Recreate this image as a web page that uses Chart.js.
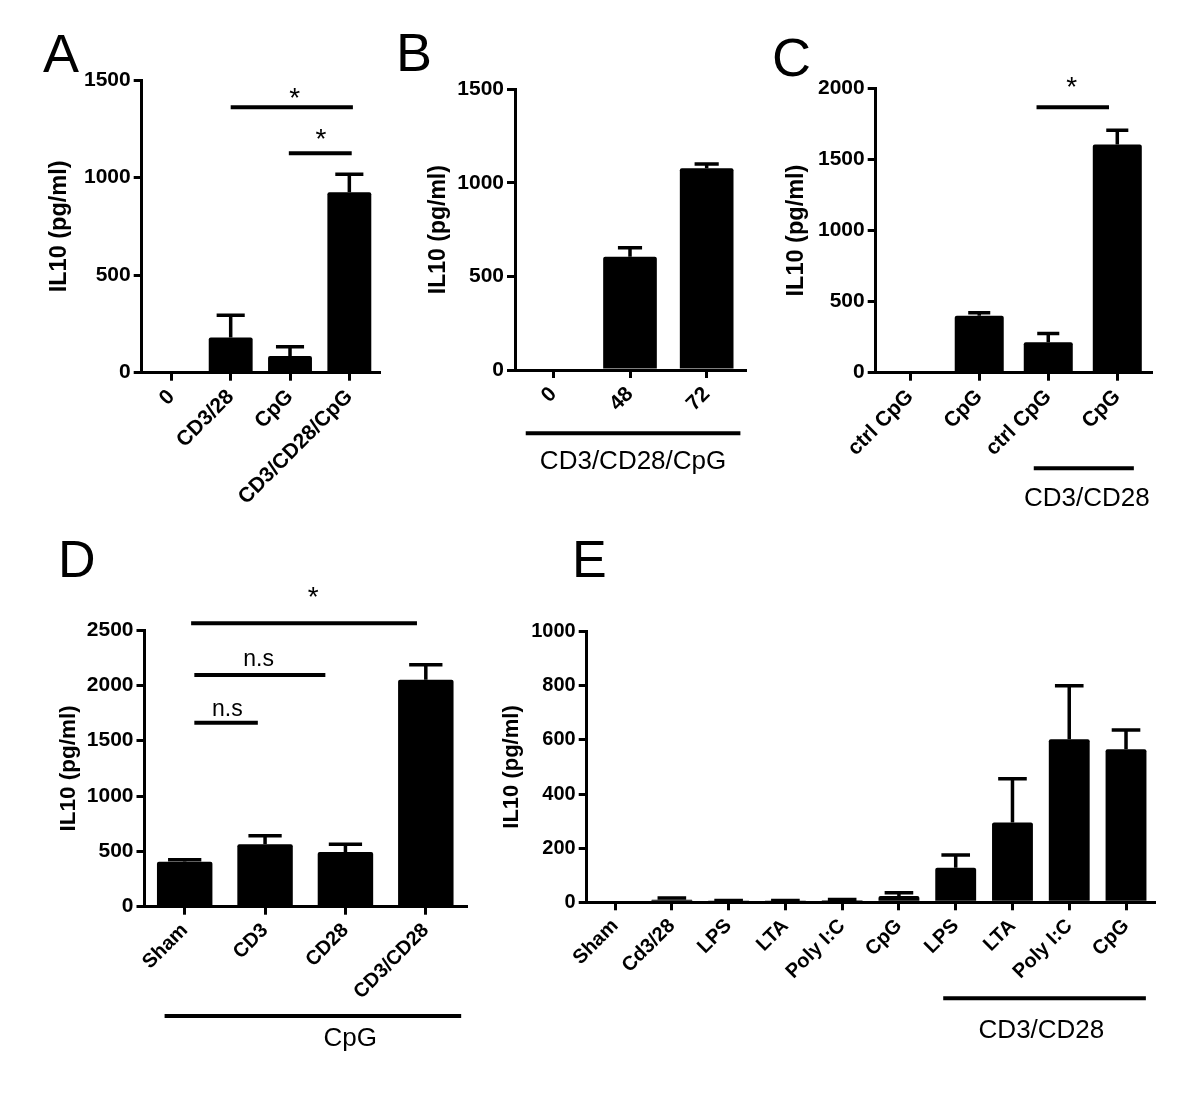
<!DOCTYPE html>
<html>
<head>
<meta charset="utf-8">
<script src="https://cdn.jsdelivr.net/npm/chart.js@4.4.0/dist/chart.umd.min.js"></script>
<style>
  body { margin: 0; background: #fff; }
  #figure { position: relative; width: 1200px; height: 1098px; overflow: hidden; font-family: "Liberation Sans", Arial, sans-serif; }
  #figure canvas { position: absolute; }
  .letter { position: absolute; line-height: 1; color: #000; }
</style>
</head>
<body>
<div id="figure">
  <canvas id="chartA"></canvas>
  <canvas id="chartB"></canvas>
  <canvas id="chartC"></canvas>
  <canvas id="chartD"></canvas>
  <canvas id="chartE"></canvas>
  <div class="letter" style="left:43px;top:26px;font-size:54px">A</div>
  <div class="letter" style="left:396px;top:25px;font-size:54px">B</div>
  <div class="letter" style="left:772px;top:30px;font-size:54px">C</div>
  <div class="letter" style="left:58px;top:533px;font-size:52px">D</div>
  <div class="letter" style="left:572px;top:533px;font-size:52px">E</div>
</div>
<script>
const FONT = '"Liberation Sans", Arial, sans-serif';

// panel A
const aLabels = ["0", "CD3/28", "CpG", "CD3/CD28/CpG"];
const aValues = [0, 180, 85, 925];
const aErrors = [0, 115, 48, 92];
const aTicks = [0, 500, 1000, 1500];
// significance bars: from / to category position, height, label
const aSig = [
  { from: 1.0, to: 3.06, at: 1360, text: "*", textX: 2.08, textAt: 1432 },
  { from: 1.98, to: 3.04, at: 1124, text: "*", textX: 2.52, textAt: 1223 }
];

// panel B
const bLabels = ["0", "48", "72"];
const bValues = [0, 605, 1078];
const bErrors = [0, 48, 23];
const bTicks = [0, 500, 1000, 1500];
const bGroup = { from: -0.36, to: 2.44, text: "CD3/CD28/CpG", textX: 1.04 };

// panel C
const cLabels = ["ctrl CpG", "CpG", "ctrl CpG", "CpG"];
const cValues = [0, 400, 215, 1605];
const cErrors = [0, 22, 60, 100];
const cTicks = [0, 500, 1000, 1500, 2000];
const cSig = [
  { from: 1.83, to: 2.88, at: 1866, text: "*", textX: 2.34, textAt: 2046 }
];
const cGroup = { from: 1.79, to: 3.24, text: "CD3/CD28", textX: 2.56 };

// panel D
const dLabels = ["Sham", "CD3", "CD28", "CD3/CD28"];
const dValues = [405, 565, 495, 2050];
const dErrors = [20, 75, 70, 135];
const dTicks = [0, 500, 1000, 1500, 2000, 2500];
const dSig = [
  { from: 0.08, to: 2.89, at: 2561, text: "*", textX: 1.6, textAt: 2846 },
  { from: 0.12, to: 1.75, at: 2094, text: "n.s", textX: 0.92, textAt: 2235 },
  { from: 0.12, to: 0.91, at: 1663, text: "n.s", textX: 0.53, textAt: 1784 }
];
const dGroup = { from: -0.25, to: 3.44, text: "CpG", textX: 2.06 };

// panel E
const eLabels = ["Sham", "Cd3/28", "LPS", "LTA", "Poly I:C", "CpG", "LPS", "LTA", "Poly I:C", "CpG"];
const eValues = [0, 9, 5, 5, 8, 23, 128, 295, 603, 566];
const eErrors = [0, 7, 2, 2, 2, 12, 47, 162, 197, 71];
const eTicks = [0, 200, 400, 600, 800, 1000];
const eGroup = { from: 5.78, to: 9.35, text: "CD3/CD28", textX: 7.51 };

const panels = [
  { id: "chartA", box: [0, 20, 410, 500], area: [141.7, 80, 379, 372.7], labels: aLabels, values: aValues, errors: aErrors, ticks: aTicks, sig: aSig, group: null,
    barPct: 0.74, capPct: 0.64, titleX: 60, titleSize: 23.5, yFont: 21, xFont: 21 },
  { id: "chartB", box: [400, 20, 380, 500], area: [515, 89.3, 745, 370], labels: bLabels, values: bValues, errors: bErrors, ticks: bTicks, sig: [], group: bGroup,
    barPct: 0.70, capPct: 0.45, titleX: 438.7, titleSize: 23, yFont: 21, xFont: 21, groupDrop: 63.3, groupText: 28.4 },
  { id: "chartC", box: [760, 20, 440, 500], area: [875.7, 88.3, 1151.8, 372.7], labels: cLabels, values: cValues, errors: cErrors, ticks: cTicks, sig: cSig, group: cGroup,
    barPct: 0.71, capPct: 0.45, titleX: 797, titleSize: 23.5, yFont: 21, xFont: 21, groupDrop: 95.6, groupText: 28.4 },
  { id: "chartD", box: [0, 560, 480, 538], area: [144.5, 630, 466, 906.7], labels: dLabels, values: dValues, errors: dErrors, ticks: dTicks, sig: dSig, group: dGroup,
    barPct: 0.69, capPct: 0.6, titleX: 69, titleSize: 22.5, yFont: 21, xFont: 20, groupDrop: 109.3, groupText: 23 },
  { id: "chartE", box: [480, 560, 720, 538], area: [586.7, 631.7, 1154.4, 902.3], labels: eLabels, values: eValues, errors: eErrors, ticks: eTicks, sig: [], group: eGroup,
    barPct: 0.72, capPct: 0.7, titleX: 512, titleSize: 22, yFont: 20, xFont: 20, groupDrop: 96, groupText: 30 }
];

// text centred on its visible glyphs
function centerText(ctx, text, x, cy) {
  const m = ctx.measureText(text);
  ctx.textAlign = "center";
  ctx.textBaseline = "alphabetic";
  ctx.fillText(text, x, cy + (m.actualBoundingBoxAscent - m.actualBoundingBoxDescent) / 2);
}

function extras(p) {
  return {
    id: "extras" + p.id,
    afterDatasetsDraw(chart) {
      const ctx = chart.ctx;
      const xs = chart.scales.x;
      const ys = chart.scales.y;
      const bars = chart.getDatasetMeta(0).data;
      ctx.save();
      ctx.strokeStyle = "#000";
      ctx.fillStyle = "#000";
      // error bars (upper only)
      ctx.lineWidth = 3.5;
      bars.forEach((bar, i) => {
        const err = p.errors[i];
        if (!err) return;
        const yTop = ys.getPixelForValue(p.values[i] + err);
        const cap = bar.width * p.capPct / 2;
        ctx.beginPath();
        ctx.moveTo(bar.x, bar.y);
        ctx.lineTo(bar.x, yTop);
        ctx.moveTo(bar.x - cap, yTop);
        ctx.lineTo(bar.x + cap, yTop);
        ctx.stroke();
      });
      // significance lines
      ctx.lineWidth = 4;
      p.sig.forEach(s => {
        const y = ys.getPixelForValue(s.at);
        ctx.beginPath();
        ctx.moveTo(xs.getPixelForValue(s.from), y);
        ctx.lineTo(xs.getPixelForValue(s.to), y);
        ctx.stroke();
        ctx.font = (s.text === "*" ? "28px " : "23px ") + FONT;
        centerText(ctx, s.text, xs.getPixelForValue(s.textX), ys.getPixelForValue(s.textAt));
      });
      // group line under the axis
      if (p.group) {
        const g = p.group;
        const y = xs.top + p.groupDrop;
        ctx.lineWidth = 4;
        ctx.beginPath();
        ctx.moveTo(xs.getPixelForValue(g.from), y);
        ctx.lineTo(xs.getPixelForValue(g.to), y);
        ctx.stroke();
        ctx.font = "26px " + FONT;
        centerText(ctx, g.text, xs.getPixelForValue(g.textX), y + p.groupText);
      }
      ctx.restore();
    }
  };
}

function makeChart(p) {
  const [x0, y0, w, h] = p.box;
  const [L, T, R, B] = p.area;
  const cv = document.getElementById(p.id);
  cv.width = w;
  cv.height = h;
  cv.style.left = x0 + "px";
  cv.style.top = y0 + "px";
  new Chart(cv, {
    type: "bar",
    data: {
      labels: p.labels,
      datasets: [{
        data: p.values,
        backgroundColor: "#000",
        borderRadius: 2,
        barPercentage: p.barPct,
        categoryPercentage: 1
      }]
    },
    options: {
      responsive: false,
      animation: false,
      devicePixelRatio: 1,
      layout: { padding: { left: 0, top: T - y0, right: x0 + w - R, bottom: 0 } },
      plugins: { legend: { display: false }, tooltip: { enabled: false } },
      scales: {
        x: {
          grid: { offset: false, drawOnChartArea: false, tickLength: 8, lineWidth: 3, color: "#000" },
          border: { display: true, color: "#000", width: 3 },
          ticks: {
            color: "#000", autoSkip: false, minRotation: 45, maxRotation: 45, padding: 4,
            font: { family: FONT, size: p.xFont, weight: "bold" }
          },
          afterFit: s => { s.height = y0 + h - B; }
        },
        y: {
          min: p.ticks[0],
          max: p.ticks[p.ticks.length - 1],
          grid: { drawOnChartArea: false, tickLength: 8, lineWidth: 3, color: "#000" },
          border: { display: true, color: "#000", width: 3 },
          ticks: {
            color: "#000", padding: 3, stepSize: p.ticks[1] - p.ticks[0],
            callback: v => String(v),
            font: { family: FONT, size: p.yFont, weight: "bold" }
          },
          title: {
            display: true, text: "IL10 (pg/ml)", color: "#000",
            font: { family: FONT, size: p.titleSize, weight: "bold", lineHeight: 1.2 },
            padding: { top: p.titleX - x0 - p.titleSize * 0.6, bottom: 0 }
          },
          afterFit: s => { s.width = L - x0; }
        }
      }
    },
    plugins: [extras(p)]
  });
}

panels.forEach(makeChart);
</script>
</body>
</html>
